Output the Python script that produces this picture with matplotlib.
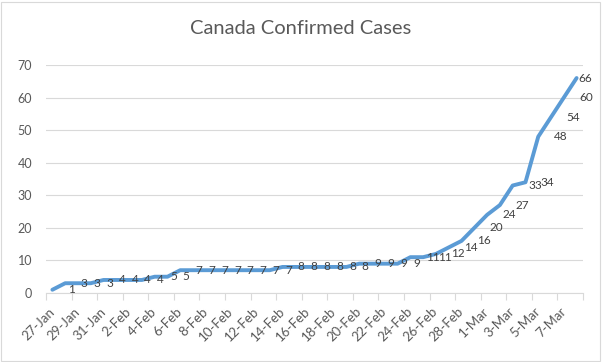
import matplotlib
matplotlib.use("Agg")
import matplotlib.pyplot as plt
from matplotlib.patches import Rectangle

plt.rcParams['font.family'] = ['Lato', 'DejaVu Sans']

dates = ["27-Jan", "28-Jan", "29-Jan", "30-Jan", "31-Jan",
         "1-Feb", "2-Feb", "3-Feb", "4-Feb", "5-Feb", "6-Feb", "7-Feb", "8-Feb",
         "9-Feb", "10-Feb", "11-Feb", "12-Feb", "13-Feb", "14-Feb", "15-Feb",
         "16-Feb", "17-Feb", "18-Feb", "19-Feb", "20-Feb", "21-Feb", "22-Feb",
         "23-Feb", "24-Feb", "25-Feb", "26-Feb", "27-Feb", "28-Feb", "29-Feb",
         "1-Mar", "2-Mar", "3-Mar", "4-Mar", "5-Mar", "6-Mar", "7-Mar", "8-Mar"]
cases = [1, 3, 3, 3, 4, 4, 4, 4, 5, 5, 7, 7, 7, 7, 7, 7, 7, 7, 8, 8, 8,
         8, 8, 8, 9, 9, 9, 9, 11, 11, 12, 14, 16, 20, 24, 27, 33, 34, 48,
         54, 60, 66]
yticks = [0, 10, 20, 30, 40, 50, 60, 70]

W, H = 602, 362
fig = plt.figure(figsize=(W / 100, H / 100), dpi=100)
ax = fig.add_axes([46 / W, 1 - 293 / H, (583 - 46) / W, (293 - 65) / H])

x = list(range(len(cases)))
ax.plot(x, cases, color='#5B9BD5', lw=2.8, solid_capstyle='round',
        solid_joinstyle='round', zorder=3)

ax.set_xlim(-0.5, len(cases) - 0.5)
ax.set_ylim(0, 70)
ax.set_yticks(yticks)
ax.set_yticklabels([str(v) for v in yticks], color='#595959', fontsize=9)
ax.grid(axis='y', color='#D9D9D9', lw=0.8)
ax.set_axisbelow(True)
ax.tick_params(axis='y', length=0, pad=10)

# tick marks at category boundaries every 2 categories
ax.set_xticks([i - 0.5 for i in range(0, len(cases) + 1, 2)])
ax.set_xticklabels([])
ax.tick_params(axis='x', which='major', length=5, color='#D9D9D9', width=0.8)
ax.set_xticks(list(range(0, len(cases), 2)), minor=True)
ax.set_xticklabels([dates[i] for i in range(0, len(cases), 2)], minor=True,
                   rotation=45, ha='right', va='center', rotation_mode='anchor',
                   color='#595959', fontsize=9.5)
ax.tick_params(axis='x', which='minor', length=0, pad=12)

for s in ['top', 'right', 'left']:
    ax.spines[s].set_visible(False)
ax.spines['bottom'].set_color('#D9D9D9')
ax.spines['bottom'].set_linewidth(0.8)

for i, v in enumerate(cases):
    off = 11 if i < len(cases) - 1 else 1
    ax.annotate(str(v), (i, v), xytext=(off, 0), textcoords='offset points',
                ha='left', va='center', fontsize=8.5, color='#404040', zorder=4)

fig.text(0.5, 1 - 29 / H, "Canada Confirmed Cases",
         ha='center', va='center', fontsize=14.5, color='#595959')

fig.patches.append(Rectangle((0.5 / W, 1.5 / H), (W - 3) / W, (H - 3) / H,
                             transform=fig.transFigure, fill=False,
                             edgecolor='#D9D9D9', lw=0.8))

fig.savefig("out.png", dpi=100)
